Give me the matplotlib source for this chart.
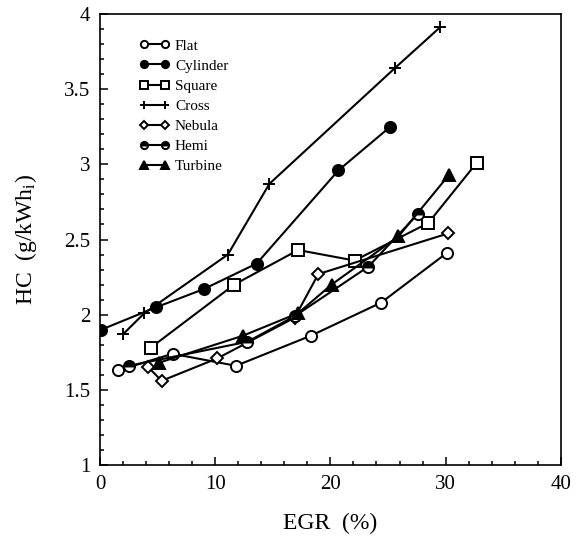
import matplotlib
matplotlib.use("Agg")
import matplotlib.pyplot as plt
from matplotlib.ticker import MultipleLocator

plt.rcParams['font.family'] = ['Liberation Serif', 'DejaVu Serif']
plt.rcParams['mathtext.fontset'] = 'custom'
plt.rcParams['mathtext.rm'] = 'Liberation Serif'
plt.rcParams['mathtext.it'] = 'Liberation Serif:italic'

# EGR (%) vs HC (g/kWh_i)
flat_x = [1.6, 6.3, 11.8, 18.3, 24.4, 30.1]
flat_y = [1.63, 1.74, 1.66, 1.86, 2.08, 2.41]

cyl_x = [0.1, 4.9, 9.0, 13.6, 20.7, 25.2]
cyl_y = [1.90, 2.05, 2.17, 2.34, 2.96, 3.25]

square_x = [4.4, 11.65, 17.2, 22.1, 28.5, 32.7]
square_y = [1.78, 2.20, 2.43, 2.36, 2.61, 3.01]

cross_x = [2.0, 3.85, 11.1, 14.7, 25.6, 29.5]
cross_y = [1.87, 2.01, 2.40, 2.87, 3.64, 3.91]

nebula_x = [4.2, 5.35, 10.2, 16.9, 18.95, 30.2]
nebula_y = [1.65, 1.56, 1.71, 1.98, 2.27, 2.54]

hemi_x = [2.5, 12.8, 16.9, 23.3, 27.6]
hemi_y = [1.66, 1.82, 1.99, 2.32, 2.67]

turb_x = [5.1, 12.4, 17.2, 20.1, 25.9, 30.3]
turb_y = [1.68, 1.86, 2.01, 2.20, 2.52, 2.93]


def main():
    fig = plt.figure(figsize=(5.76, 5.37), dpi=100)
    ax = fig.add_axes([0.1736, 0.134, 0.8, 0.84])

    common = dict(color='black', lw=1.5, ms=8, mew=1.4, mec='black')
    ax.plot(flat_x, flat_y, marker='o', mfc='white', label='Flat', **common)
    ax.plot(cyl_x, cyl_y, marker='o', mfc='black', label='Cylinder', **common)
    ax.plot(square_x, square_y, marker='s', mfc='white', label='Square', **common)
    ax.plot(cross_x, cross_y, marker='+', ms=9, color='black', lw=1.5, mew=1.4, label='Cross')
    ax.plot(nebula_x, nebula_y, marker='D', mfc='white', label='Nebula',
            **{**common, 'ms': 6.5})
    ax.plot(hemi_x, hemi_y, marker='o', fillstyle='top', mfc='black',
            markerfacecoloralt='white', label='Hemi', **common)
    ax.plot(turb_x, turb_y, marker='^', mfc='black', label='Turbine', **common)

    ax.set_xlim(0, 40)
    ax.set_ylim(1, 4)
    ax.xaxis.set_major_locator(MultipleLocator(10))
    ax.xaxis.set_minor_locator(MultipleLocator(2))
    ax.yaxis.set_minor_locator(MultipleLocator(0.1))
    ax.set_yticks([1, 1.5, 2, 2.5, 3, 3.5, 4])
    ax.set_yticklabels(['1', '1.5', '2', '2.5', '3', '3.5', '4'])
    ax.tick_params(which='both', direction='in', top=False, right=False,
                   labelsize=15, width=1.1)
    ax.tick_params(which='major', length=6, pad=7)
    ax.tick_params(which='minor', length=3)
    for s in ax.spines.values():
        s.set_linewidth(1.2)

    ax.set_xlabel('EGR  (%)', fontsize=17, labelpad=14)
    ax.set_ylabel('HC  (g/kWh$_{\\rm i}$)', fontsize=17, labelpad=18)

    ax.legend(loc='upper left', bbox_to_anchor=(0.055, 0.975), frameon=False,
              fontsize=11, markerscale=0.65, numpoints=2, handlelength=2.0,
              handletextpad=0.35, labelspacing=0.42)

    fig.savefig('out.png', dpi=100)


if __name__ == "__main__":
    main()
